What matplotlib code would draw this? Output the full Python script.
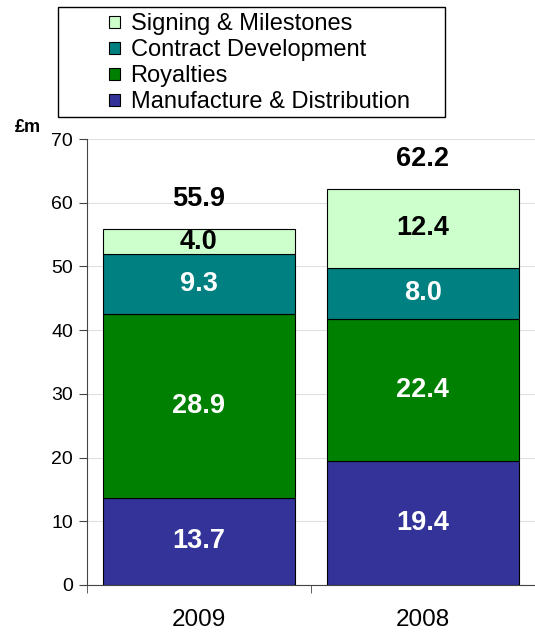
import matplotlib
matplotlib.use('Agg')
from matplotlib import pyplot as plt
from matplotlib.patches import Rectangle
import numpy as np

plt.rcParams['font.family'] = ['Liberation Sans', 'DejaVu Sans']

# data
years = ['2009', '2008']
segments = ['Manufacture & Distribution', 'Royalties', 'Contract Development', 'Signing & Milestones']
manufacture = [13.7, 19.4]
royalties = [28.9, 22.4]
contract = [9.3, 8.0]
signing = [4.0, 12.4]
totals = [55.9, 62.2]
colors = ['#333399', '#008000', '#008080', '#CCFFCC']
text_colors = ['white', 'white', 'white', 'black']

fig = plt.figure(figsize=(5.35, 6.32), dpi=100)
ax = fig.add_axes([0.1626, 0.0744, 0.837, 0.7056])

x = np.arange(len(years))
bottom = np.zeros(len(years))
handles = []
for vals, name, col, tcol in zip([manufacture, royalties, contract, signing], segments, colors, text_colors):
    vals = np.array(vals)
    bars = ax.bar(x, vals, width=0.855, bottom=bottom, color=col, edgecolor='black', linewidth=0.8,
                  label=name, zorder=3)
    handles.append(bars)
    for xi, b, v in zip(x, bottom, vals):
        ax.text(xi, b + v / 2, f'{v:.1f}', ha='center', va='center', color=tcol,
                fontsize=19.5, fontweight='bold', zorder=4)
    bottom += vals

for xi, t in zip(x, totals):
    ax.text(xi, t + 4.7, f'{t:.1f}', ha='center', va='center', color='black',
            fontsize=19.5, fontweight='bold')

ax.set_xlim(-0.5, 1.5)
ax.set_ylim(0, 70)
ax.set_yticks(range(0, 71, 10))
ax.yaxis.grid(True, color='#e0e0e0', linewidth=0.8, zorder=0)
ax.set_xticks(x)
ax.set_xticklabels(years)
ax.set_xticks([-0.5, 0.5, 1.5], minor=True)
ax.tick_params(axis='x', which='major', length=0, pad=17, labelsize=17.5)
ax.tick_params(axis='x', which='minor', length=6, direction='out', color='#444444')
ax.tick_params(axis='y', length=6, labelsize=14, color='#444444', pad=4)
for s in ['top', 'right']:
    ax.spines[s].set_visible(False)
ax.spines['left'].set_color('#444444')
ax.spines['bottom'].set_color('#444444')

fig.text(28 / 535, 1 - 127 / 632, '£m', fontsize=13, fontweight='bold', ha='center', va='center')

# legend with a plain box around it
fig.patches.append(Rectangle((58 / 535, 1 - 117 / 632), (445 - 58) / 535, 110 / 632,
                             transform=fig.transFigure, facecolor='white', edgecolor='black',
                             linewidth=1.0, zorder=1))
leg = fig.legend(handles[::-1], segments[::-1], loc='upper left', bbox_to_anchor=(107 / 535, 1 - 11 / 632),
                 frameon=False, fontsize=17, labelspacing=0.17, handlelength=0.45, handleheight=0.45,
                 handletextpad=0.45, borderpad=0.1, borderaxespad=0)
leg.set_zorder(2)

fig.savefig('out.png', dpi=100)
